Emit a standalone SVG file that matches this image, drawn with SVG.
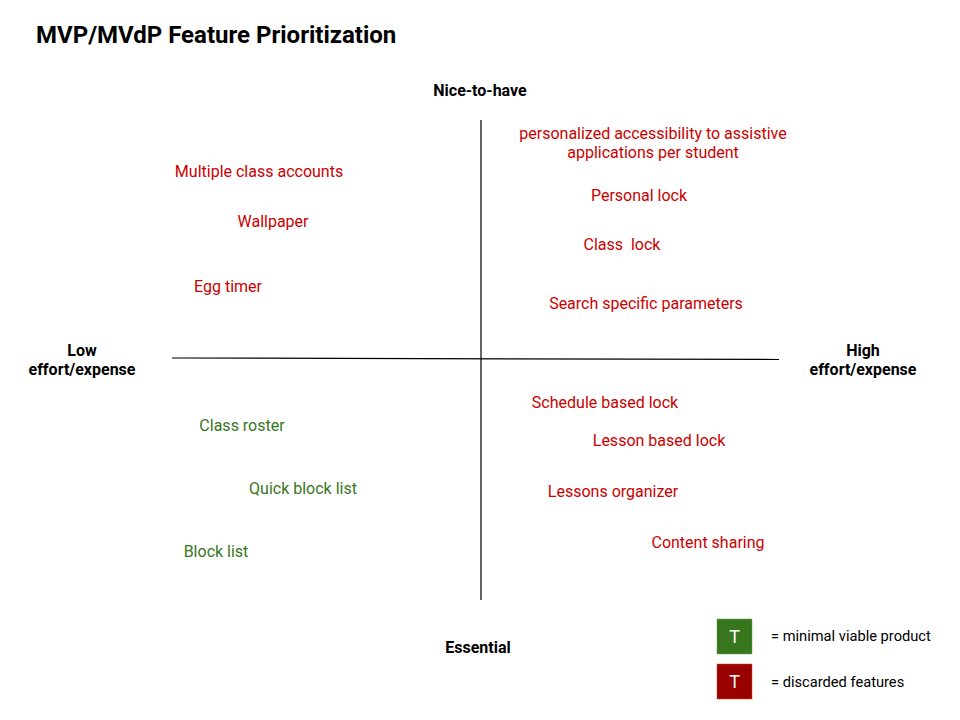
<svg xmlns="http://www.w3.org/2000/svg" width="960" height="720" viewBox="0 0 960 720">
<style>
text{font-family:Roboto,"Liberation Sans",sans-serif}
.title{font-size:24px;font-weight:bold;fill:#000}
.axis{font-size:16px;font-weight:bold;fill:#000;text-anchor:middle}
.red{font-size:16px;fill:#cc0000;text-anchor:middle}
.green{font-size:16px;fill:#38761d;text-anchor:middle}
.leg{font-size:14.67px;fill:#000}
.t{font-size:18px;fill:#fff;text-anchor:middle}
.ax{stroke:#000;stroke-width:1.2}
</style>
<rect width="960" height="720" fill="#fff"/>
<text class="title" x="36" y="43">MVP/MVdP Feature Prioritization</text>
<g id="connectors">
<line class="ax" x1="172" y1="358" x2="779" y2="359.5"/>
<line class="ax" x1="481" y1="120" x2="481" y2="600"/>
</g>
<g id="axis-labels">
<text class="axis" x="480" y="96">Nice-to-have</text>
<text class="axis" x="478" y="653">Essential</text>
<text class="axis" x="82" y="356">Low</text>
<text class="axis" x="82" y="375">effort/expense</text>
<text class="axis" x="863" y="356">High</text>
<text class="axis" x="863" y="375">effort/expense</text>
</g>
<g id="n-accessibility"><text class="red" x="653" y="139">personalized accessibility to assistive</text><text class="red" x="653" y="158">applications per student</text></g>
<g id="n-personal-lock"><text class="red" x="639" y="201">Personal lock</text></g>
<g id="n-class-lock"><text class="red" x="622" y="250" xml:space="preserve">Class  lock</text></g>
<g id="n-search"><text class="red" x="646" y="309">Search specific parameters</text></g>
<g id="n-multiple"><text class="red" x="259" y="177">Multiple class accounts</text></g>
<g id="n-wallpaper"><text class="red" x="273" y="227">Wallpaper</text></g>
<g id="n-egg"><text class="red" x="228" y="292">Egg timer</text></g>
<g id="n-schedule"><text class="red" x="605" y="408">Schedule based lock</text></g>
<g id="n-lesson-lock"><text class="red" x="659" y="446">Lesson based lock</text></g>
<g id="n-organizer"><text class="red" x="613" y="497">Lessons organizer</text></g>
<g id="n-sharing"><text class="red" x="708" y="548">Content sharing</text></g>
<g id="n-roster"><text class="green" x="242" y="431">Class roster</text></g>
<g id="n-quick"><text class="green" x="303" y="494">Quick block list</text></g>
<g id="n-block"><text class="green" x="216" y="557">Block list</text></g>
<g id="legend">
<rect x="717" y="619" width="35" height="35" fill="#38761d" stroke="#6aa84f" stroke-width="0.5"/>
<text class="t" x="734.5" y="643">T</text>
<text class="leg" x="771" y="641">= minimal viable product</text>
<rect x="717" y="664" width="35" height="35" fill="#990000" stroke="#cc4125" stroke-width="0.5"/>
<text class="t" x="734.5" y="688">T</text>
<text class="leg" x="771" y="687">= discarded features</text>
</g>
</svg>
